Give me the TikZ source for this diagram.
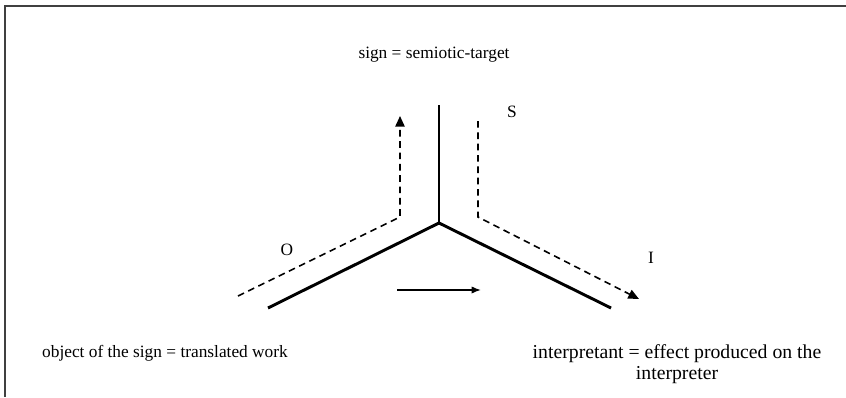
\documentclass[tikz,border=0pt]{standalone}
\usepackage{fontspec}
\setmainfont{Liberation Serif}
\usetikzlibrary{arrows.meta}

\begin{document}
\begin{tikzpicture}[x=0.75pt,y=-0.75pt,
			axis/.style={line width=2.2pt},
			flow/.style={line width=1.2pt,dash pattern=on 5pt off 3.5pt},
			tip/.style={-{Triangle[length=8pt,width=7pt]}},
			lbl/.style={font=\fontsize{13}{15.5}\selectfont,inner sep=0pt,align=center}]
			\useasboundingbox (0,0) rectangle (846,397);
			\draw [line width=1.5pt,black!75] (846,6) -- (5,6) -- (5,397);
			\coordinate (C) at (439,223);
			\coordinate (T) at (439,105);
			\coordinate (L) at (268,308);
			\coordinate (R) at (611,308);
			\draw [axis] (T) -- (C);
			\draw [axis] (L) -- (C) -- (R);
			\coordinate (O1) at (238,296);
			\coordinate (O2) at (400,217);
			\coordinate (O3) at (400,116);
			\draw [flow,tip] (O1) -- (O2) -- (O3);
			\coordinate (I1) at (478,121);
			\coordinate (I2) at (478,217);
			\coordinate (I3) at (639,299);
			\draw [flow,tip] (I1) -- (I2) -- (I3);
			\coordinate (A1) at (397,290);
			\coordinate (A2) at (481,290);
			\draw [line width=1.2pt,-{Latex[length=7pt,width=5.5pt]}] (A1) -- (A2);
			\node [lbl] (sign) at (434,55) {sign = semiotic-target};
			\node [lbl] (S) at (512,112) {S};
			\node [lbl] (O) at (287,250) {O};
			\node [lbl] (I) at (651,258) {I};
			\node [lbl] (obj) at (165,353) {object of the sign = translated work};
			\node [lbl,font=\fontsize{14.8}{15.8}\selectfont] (int) at (677,364) {interpretant = effect produced on the\\interpreter};
		\end{tikzpicture}
\end{document}
